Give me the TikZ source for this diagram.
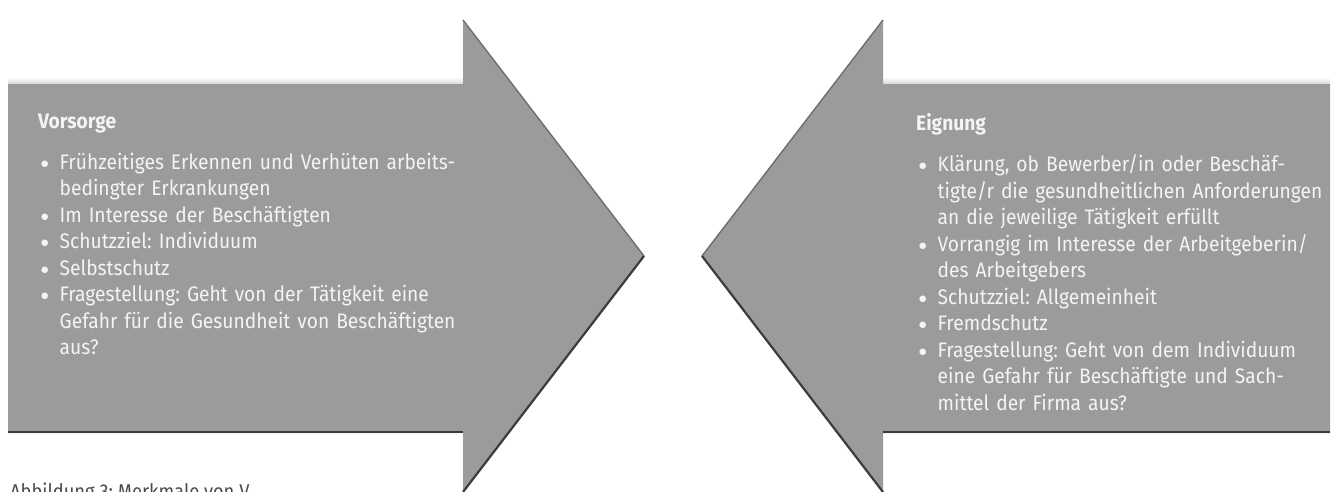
\documentclass[tikz,border=0pt]{standalone}
\usepackage{fontspec}
\setmainfont{Fira Sans}[FakeStretch=0.915]
\newfontfamily\symfont{DejaVu Sans}
\definecolor{arrowgray}{HTML}{9B9B9B}
\definecolor{edgedark}{HTML}{3C3C3C}
\definecolor{edgemid}{HTML}{6E6E6E}
\definecolor{txtwhite}{HTML}{F4F4F4}
\definecolor{captiongray}{HTML}{4A4A4A}
\frenchspacing
\newcommand{\nl}{\hfil\break}
\newcommand{\bulletmark}{\raisebox{3.2pt}{{\symfont\fontsize{8.5}{8.5}\selectfont ●}}}
\newcommand{\bitem}[1]{\par\hangindent=21.5pt\hangafter=1\noindent\hspace*{3pt}\makebox[18.5pt][l]{\bulletmark}#1\par}
\begin{document}
\begin{tikzpicture}[x=1pt,y=-1pt,
  arrowshape/.style={fill=arrowgray,draw=none},
  darkedge/.style={draw=edgedark,line width=2.2pt},
  midedge/.style={draw=edgemid,line width=1.4pt},
  boxtext/.style={anchor=north west,inner sep=0pt,text width=600pt,align=left,text=txtwhite,font=\fontsize{21}{26.5}\selectfont\frenchspacing},
  captiontext/.style={anchor=base west,inner sep=0pt,text=captiongray,font=\fontsize{20}{24}\selectfont\frenchspacing}]
\path[use as bounding box,fill=white] (0,0) rectangle (1340,491);
% soft glow above the bodies
\shade[top color=white,bottom color=gray!30] (8,77) rectangle (463,84);
\shade[top color=white,bottom color=gray!30] (883,77) rectangle (1330,84);
% left arrow
\coordinate (LT) at (463,20);
\coordinate (LP) at (644,256);
\coordinate (LB) at (463,492);
\fill[arrowshape] (8,84) -- (463,84) -- (LT) -- (LP) -- (LB) -- (463,433) -- (8,433) -- cycle;
\draw[midedge] (LT) -- (LP);
\draw[darkedge] (8,432) -- (463,432);
\draw[darkedge] (LP) -- (LB);
% right arrow
\coordinate (RT) at (883,20);
\coordinate (RP) at (702,256);
\coordinate (RB) at (883,492);
\fill[arrowshape] (1330,84) -- (883,84) -- (RT) -- (RP) -- (RB) -- (883,433) -- (1330,433) -- cycle;
\draw[midedge] (RT) -- (RP);
\draw[darkedge] (1330,432) -- (883,432);
\draw[darkedge] (RP) -- (RB);
% texts
\node[boxtext] (vorsorge) at (38,113.5) {\textbf{Vorsorge}\par\vspace{14.5pt}
\bitem{Frühzeitiges Erkennen und Verhüten arbeits-\nl bedingter Erkrankungen}
\bitem{Im Interesse der Beschäftigten}
\bitem{Schutzziel: Individuum}
\bitem{Selbstschutz}
\bitem{Fragestellung: Geht von der Tätigkeit eine\nl Gefahr für die Gesundheit von Beschäftigten\nl aus?}};
\node[boxtext] (eignung) at (916,113.5) {\textbf{Eignung}\par\vspace{14.5pt}
\bitem{Klärung, ob Bewerber/in oder Beschäf-\nl tigte/r die gesundheitlichen Anforderungen\nl an die jeweilige Tätigkeit erfüllt}
\bitem{Vorrangig im Interesse der Arbeitgeberin/\nl des Arbeitgebers}
\bitem{Schutzziel: Allgemeinheit}
\bitem{Fremdschutz}
\bitem{Fragestellung: Geht von dem Individuum\nl eine Gefahr für Beschäftigte und Sach-\nl mittel der Firma aus?}};
\node[captiontext] (caption) at (10,498) {Abbildung 3: Merkmale von V};
\end{tikzpicture}
\end{document}
